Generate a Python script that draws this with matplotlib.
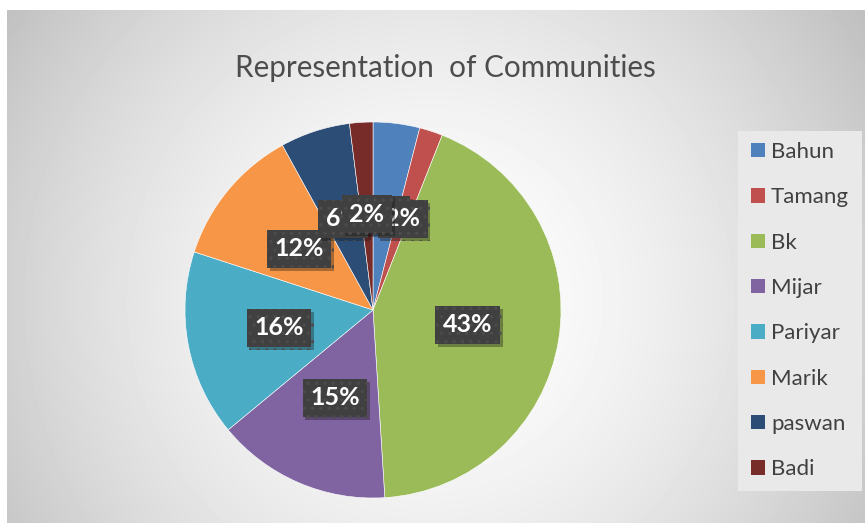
import numpy as np
import matplotlib
matplotlib.use("Agg")
import matplotlib.pyplot as plt
from matplotlib.patches import Rectangle, Patch
import matplotlib.patheffects as pe

categories = ["Bahun", "Tamang", "Bk", "Mijar", "Pariyar", "Marik", "paswan", "Badi"]
values = [4, 2, 43, 15, 16, 12, 6, 2]
colors = ["#4F81BD", "#C0504D", "#9BBB59", "#8064A2", "#4BACC6", "#F79646", "#2C4D75", "#772C2A"]
title = "Representation  of Communities"

W, H = 865, 523
plt.rcParams['font.family'] = ['Lato', 'DejaVu Sans']
plt.rcParams['hatch.linewidth'] = 1.2
fig = plt.figure(figsize=(W / 100, H / 100), dpi=100)
fig.patch.set_facecolor("white")

# background radial gradient (chart area)
x0, y0 = 7, 10  # left, top in pixels
bg = fig.add_axes([x0 / W, 0, (W - x0) / W, (H - y0) / H])
bg.set_axis_off()
gx, gy = np.meshgrid(np.arange(W - x0), np.arange(H - y0))
cx, cy = 430 - x0, 300 - y0
r = np.sqrt((gx - cx) ** 2 + (gy - cy) ** 2) / 520.0
val = 1.0 - 0.25 * np.clip(r, 0, 1) ** 1.6
bg.imshow(val, cmap="gray", vmin=0, vmax=1, aspect="auto", interpolation="bilinear")

# title
fig.text(445 / W, 1 - 68 / H, title, ha="center", va="center", fontsize=21.3, color="#4d4d4d")

# pie
cxp, cyp, R = 373, 310, 188
ax = fig.add_axes([(cxp - R) / W, (H - cyp - R) / H, 2 * R / W, 2 * R / H])
wedges, texts, autotexts = ax.pie(values, colors=colors, startangle=90, counterclock=False,
                                  autopct="%1.0f%%", pctdistance=0.51,
                                  wedgeprops=dict(edgecolor="white", linewidth=0.4))
ax.set_xlim(-1, 1)
ax.set_ylim(-1, 1)
ax.set_aspect("equal")
for i, t in enumerate(autotexts):
    t.set_color("white")
    t.set_fontsize(18)
    t.set_fontweight("bold")
    t.set_zorder(10 + i)
    t.set_bbox(dict(boxstyle="square,pad=0.3", facecolor="#404040", edgecolor="#4c4c4c",
                    linewidth=0, hatch=".."))
    t.get_bbox_patch().set_path_effects([pe.SimplePatchShadow(offset=(2, -2), alpha=0.35), pe.Normal()])

# legend
lx0, ly0, lx1, ly1 = 738, 131, 862, 491
fig.patches.append(Rectangle((lx0 / W, 1 - ly1 / H), (lx1 - lx0) / W, (ly1 - ly0) / H,
                             transform=fig.transFigure, facecolor="#e9e9e9", edgecolor="none", zorder=1))
handles = [Patch(facecolor=c, edgecolor="none") for c in colors]
leg = fig.legend(handles, categories, loc="upper left", bbox_to_anchor=(751 / W, 1 - 142 / H),
                 frameon=False, fontsize=16, handlelength=0.63, handleheight=0.63,
                 handletextpad=0.27, labelspacing=1.14, borderpad=0, borderaxespad=0)
for t in leg.get_texts():
    t.set_color("#404040")

fig.savefig("out.png", dpi=100)
